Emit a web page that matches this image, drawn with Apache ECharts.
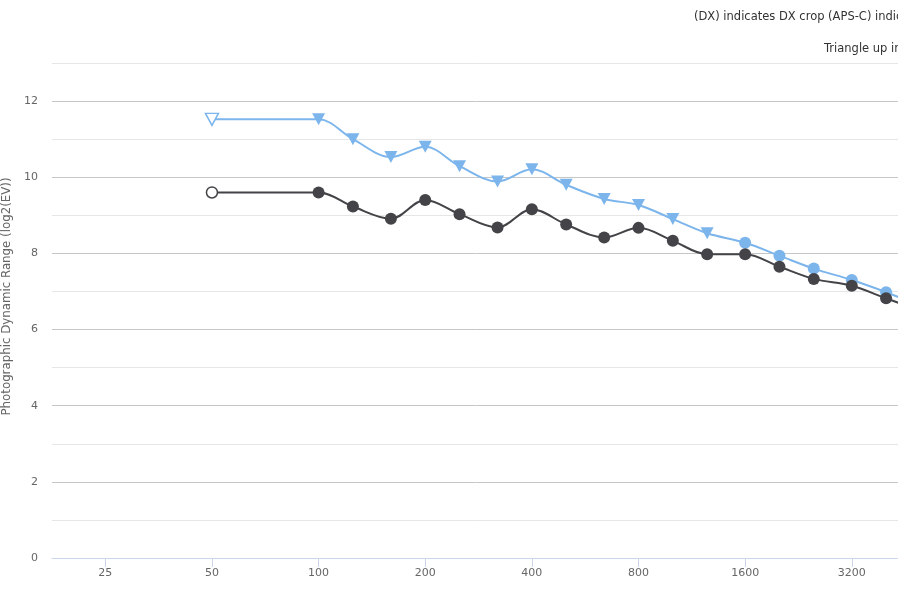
<!DOCTYPE html>
<html>
<head>
<meta charset="utf-8">
<script src="https://cdn.jsdelivr.net/npm/echarts@6/dist/echarts.min.js"></script>
<style>
html,body{margin:0;padding:0;background:#fff;}
#chart{width:898px;height:607px;}
</style>
</head>
<body>
<div id="chart"></div>
<script>
// ---- data ----
const isoValues = [50, 100, 125, 160, 200, 250, 320, 400, 500, 640, 800, 1000, 1250, 1600, 2000, 2500, 3200, 4000, 5000];
const blueValues = [11.52, 11.52, 11.00, 10.53, 10.80, 10.29, 9.89, 10.21, 9.80, 9.43, 9.27, 8.90, 8.53, 8.28, 7.94, 7.60, 7.30, 6.98, 6.62];
const darkValues = [9.60, 9.60, 9.23, 8.91, 9.40, 9.03, 8.68, 9.16, 8.76, 8.42, 8.67, 8.33, 7.98, 7.98, 7.65, 7.33, 7.15, 6.82, 6.50];
const blueTriangleCount = 13; // first 13 points drawn as triangle-down
const xTickIso = [25, 50, 100, 200, 400, 800, 1600, 3200];
const baseIso = 25;
const subtitle1 = '(DX) indicates DX crop (APS-C) indicates';
const subtitle2 = 'Triangle up indicates';
const yAxisTitle = 'Photographic Dynamic Range (log2(EV))';

// ---- build ----
const toX = iso => Math.log2(iso / baseIso);
const FONT = '"DejaVu Sans", Verdana, sans-serif';
const BLUE = '#7cb5ec';
const DARK = '#434348';

const blueData = isoValues.map((iso, i) => {
  const item = { value: [toX(iso), blueValues[i]] };
  if (i < blueTriangleCount) {
    item.symbol = 'triangle';
    item.symbolRotate = 180;
    item.symbolSize = [13, 12];
  } else {
    item.symbol = 'circle';
    item.symbolSize = 12;
  }
  if (i === 0) {
    item.itemStyle = { color: '#ffffff', borderColor: BLUE, borderWidth: 1.5 };
  }
  return item;
});
const darkData = isoValues.map((iso, i) => {
  const item = { value: [toX(iso), darkValues[i]] };
  if (i === 0) {
    item.itemStyle = { color: '#ffffff', borderColor: DARK, borderWidth: 1.5 };
    item.symbolSize = 11;
  }
  return item;
});

const tickX = xTickIso.map(toX);

const chart = echarts.init(document.getElementById('chart'), null, { renderer: 'canvas' });
chart.setOption({
  animation: false,
  backgroundColor: '#ffffff',
  textStyle: { fontFamily: FONT },
  title: [
    { text: subtitle1, left: 689, top: 6, textStyle: { fontSize: 11.5, fontWeight: 'normal', color: '#333333', fontFamily: FONT } },
    { text: subtitle2, left: 819, top: 38, textStyle: { fontSize: 11.5, fontWeight: 'normal', color: '#333333', fontFamily: FONT } }
  ],
  grid: { left: 52, top: 63, width: 906.4, height: 495, containLabel: false, outerBoundsMode: 'none' },
  xAxis: {
    type: 'value',
    min: -0.5,
    max: 8,
    axisLine: { show: true, lineStyle: { color: '#ccd6eb', width: 1 } },
    axisTick: { show: true, length: 9, lineStyle: { color: '#ccd6eb' }, customValues: tickX },
    axisLabel: {
      customValues: tickX,
      margin: 10,
      color: '#666666',
      fontSize: 11,
      fontFamily: FONT,
      formatter: v => String(Math.round(baseIso * Math.pow(2, v)))
    },
    splitLine: { show: false }
  },
  yAxis: {
    type: 'value',
    min: 0,
    max: 13,
    interval: 1,
    name: yAxisTitle,
    nameLocation: 'middle',
    nameGap: 31,
    nameTextStyle: { color: '#666666', fontSize: 11.8, fontFamily: FONT, padding: [0, 0, 0, 28] },
    axisLine: { show: false },
    axisTick: { show: false },
    axisLabel: {
      margin: 14,
      color: '#666666',
      fontSize: 11,
      fontFamily: FONT,
      formatter: v => (Math.round(v) % 2 === 0 ? String(v) : '')
    },
    splitLine: { show: true, lineStyle: { color: ['#c6c6c6', '#e6e6e6'], width: 1 } }
  },
  series: [
    {
      type: 'line',
      name: 'DX',
      data: blueData,
      smooth: 0.35,
      color: BLUE,
      lineStyle: { width: 2, color: BLUE },
      itemStyle: { color: BLUE },
      showAllSymbol: true,
      z: 2
    },
    {
      type: 'line',
      name: 'FX',
      data: darkData,
      smooth: 0.35,
      symbol: 'circle',
      symbolSize: 12,
      color: DARK,
      lineStyle: { width: 2, color: DARK },
      itemStyle: { color: DARK },
      showAllSymbol: true,
      z: 3
    }
  ]
});
</script>
</body>
</html>
